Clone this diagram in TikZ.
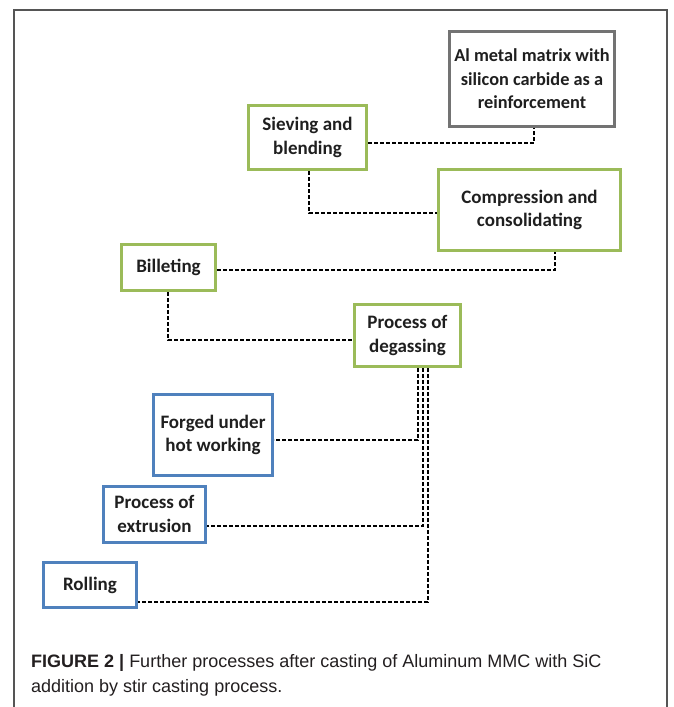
\documentclass[tikz,border=0pt]{standalone}
\usepackage{fontspec}
\newfontfamily\boxfont{Carlito}
\newfontfamily\capfont{Liberation Sans}
\definecolor{boxgreen}{HTML}{9BBB59}
\definecolor{boxblue}{HTML}{4F81BD}
\definecolor{boxgray}{HTML}{737373}
\definecolor{framegray}{HTML}{555555}
\definecolor{captext}{HTML}{231F20}
\begin{document}
\begin{tikzpicture}[x=1pt,y=-1pt,
  box/.style={draw, line width=3pt, fill=white, align=center, inner sep=0pt,
    font=\boxfont\bfseries\fontsize{19}{23.5}\selectfont, text=black!88},
  greenbox/.style={box, draw=boxgreen},
  bluebox/.style={box, draw=boxblue},
  graybox/.style={box, draw=boxgray, font=\boxfont\bfseries\fontsize{18.3}{23.5}\selectfont},
  link/.style={draw=black, line width=1.5pt, dash pattern=on 4pt off 2pt},
  captext/.style={anchor=west, inner sep=0pt, text=captext,
    font=\capfont\fontsize{18}{22}\selectfont}]
\useasboundingbox (0,0) rectangle (673,707);
\fill[white] (0,0) rectangle (673,707);
\draw[framegray, line width=1.2pt] (14,707) -- (14,10) -- (667,10) -- (667,707);

\node[graybox, minimum width=165pt, minimum height=95pt] (al) at (532,79)
  {Al metal matrix with\\silicon carbide as a\\reinforcement};
\node[greenbox, minimum width=118pt, minimum height=64pt] (sieve) at (307.5,137.5)
  {Sieving and\\blending};
\node[greenbox, minimum width=182pt, minimum height=81pt] (comp) at (529.5,210)
  {Compression and\\consolidating};
\node[greenbox, minimum width=94pt, minimum height=46pt] (bill) at (168.5,267.5)
  {Billeting};
\node[greenbox, minimum width=106pt, minimum height=62pt] (degas) at (407.5,335.5)
  {Process of\\degassing};
\node[bluebox, minimum width=119pt, minimum height=81pt] (forg) at (213,435)
  {Forged under\\hot working};
\node[bluebox, minimum width=102pt, minimum height=56pt] (extr) at (154.5,514)
  {Process of\\extrusion};
\node[bluebox, minimum width=93pt, minimum height=45pt] (roll) at (90,585)
  {Rolling};

\coordinate (c1) at (534,143);
\coordinate (c2) at (309,213);
\coordinate (c3) at (555,270);
\coordinate (c4) at (168,340);
\coordinate (c5) at (418,440);
\coordinate (c6) at (423,526);
\coordinate (c7) at (428,602);

\draw[link] (sieve.east |- c1) -| (al.south -| c1);
\draw[link] (sieve.south -| c2) |- (comp.west |- c2);
\draw[link] (bill.east |- c3) -| (comp.south -| c3);
\draw[link] (bill.south -| c4) |- (degas.west |- c4);
\draw[link] (degas.south -| c5) |- (forg.east |- c5);
\draw[link] (degas.south -| c6) |- (extr.east |- c6);
\draw[link] (degas.south -| c7) |- (roll.east |- c7);

\node[captext] (cap1) at (31,663)
  {\textbf{FIGURE 2 |} Further processes after casting of Aluminum MMC with SiC};
\node[captext] (cap2) at (31,688) {addition by stir casting process.};
\end{tikzpicture}
\end{document}
